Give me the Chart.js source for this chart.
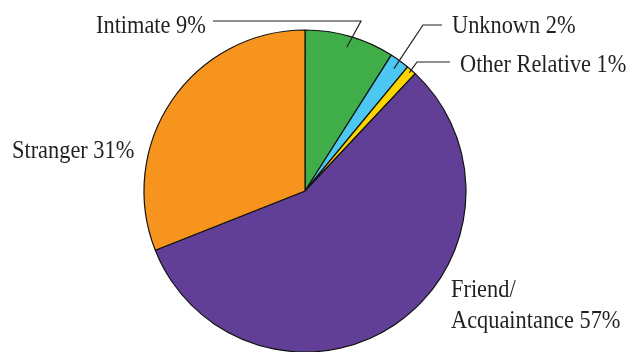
<!DOCTYPE html>
<html>
<head>
<meta charset="utf-8">
<script src="https://cdn.jsdelivr.net/npm/chart.js@4"></script>
<style>
  html, body { margin: 0; padding: 0; background: #fff; }
  #wrap { width: 626px; height: 352px; }
</style>
</head>
<body>
<div id="wrap"><canvas id="myPie" width="626" height="352"></canvas></div>
<script>
// relationship of victim to offender, percent
var categories = ["Intimate", "Unknown", "Other Relative", "Friend/Acquaintance", "Stranger"];
var percents = [9, 2, 1, 57, 31];
var sliceColors = ["#3fae49", "#4cc8f2", "#ffd500", "#623f97", "#f7941e"];

// where each label sits; elbow = bend of the pointer line, reach = how far into the slice it goes
var labelSpots = [
  { x: 96,  y: 33,  lines: ["Intimate 9%"], lineStart: [213, 21], elbow: [361, 21], reach: 0.93 },
  { x: 452, y: 33,  lines: ["Unknown 2%"], lineStart: [442, 25], elbow: [423, 25], reach: 0.94 },
  { x: 460, y: 72,  lines: ["Other Relative 1%"], lineStart: [450, 62], elbow: [417, 62], reach: 0.98 },
  { x: 451, y: 297, lines: ["Friend/", "Acquaintance 57%"], lineHeight: 31 },
  { x: 12,  y: 158, lines: ["Stranger 31%"] }
];

var labelPlugin = {
  id: "sliceLabels",
  afterDatasetsDraw: function(chart) {
    var ctx = chart.ctx;
    var arcs = chart.getDatasetMeta(0).data;
    ctx.save();
    ctx.font = "26px 'Liberation Serif', serif";
    ctx.fillStyle = "#231f20";
    ctx.textBaseline = "alphabetic";
    ctx.textAlign = "left";
    labelSpots.forEach(function(spot, i) {
      spot.lines.forEach(function(t, k) {
        // narrow the face a bit, the labels are set in a condensed serif
        ctx.save();
        ctx.translate(spot.x, spot.y + k * (spot.lineHeight || 0));
        ctx.scale(0.86, 1);
        ctx.fillText(t, 0, 0);
        ctx.restore();
      });
      if (spot.elbow) {
        var a = arcs[i];
        var mid = (a.startAngle + a.endAngle) / 2;
        var r = a.outerRadius * spot.reach;
        var px = a.x + Math.cos(mid) * r;
        var py = a.y + Math.sin(mid) * r;
        ctx.beginPath();
        ctx.strokeStyle = "#231f20";
        ctx.lineWidth = 1.2;
        ctx.moveTo(spot.lineStart[0], spot.lineStart[1]);
        ctx.lineTo(spot.elbow[0], spot.elbow[1]);
        ctx.lineTo(px, py);
        ctx.stroke();
      }
    });
    ctx.restore();
  }
};

var myPie = document.getElementById("myPie").getContext("2d");
var chart = new Chart(myPie, {
  type: "pie",
  data: {
    labels: categories,
    datasets: [{
      data: percents,
      backgroundColor: sliceColors,
      borderColor: "#111",
      borderWidth: 1.2
    }]
  },
  options: {
    responsive: false,
    animation: false,
    radius: 161,
    layout: {
      padding: { left: 144, right: 160, top: 30, bottom: 0 }
    },
    plugins: {
      legend: { display: false },
      tooltip: { enabled: false }
    }
  },
  plugins: [labelPlugin]
});
</script>
</body>
</html>
